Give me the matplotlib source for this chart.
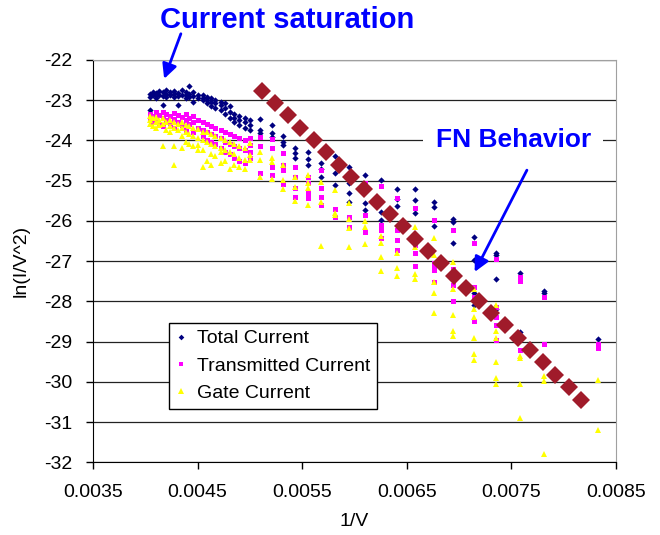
import matplotlib.pyplot as plt
from matplotlib.ticker import FixedLocator

plt.rcParams['font.family'] = ['Liberation Sans', 'DejaVu Sans']
plt.rcParams['axes.unicode_minus'] = False

# 1/V columns (same for all three measured series)
inv_v = [0.00404, 0.00407, 0.00410, 0.00413, 0.00417, 0.00420, 0.00424, 0.00427,
         0.00431, 0.00435, 0.00439, 0.00442, 0.00446, 0.00450, 0.00455, 0.00459,
         0.00463, 0.00467, 0.00472, 0.00476, 0.00481, 0.00485, 0.00490, 0.00495,
         0.00500, 0.00510, 0.00521, 0.00532, 0.00543, 0.00556, 0.00568, 0.00581,
         0.00595, 0.00610, 0.00625, 0.00641, 0.00658, 0.00676, 0.00694, 0.00714,
         0.00735, 0.00758, 0.00781, 0.00833]

total_vals = [
    [-22.85, -22.92, -23.25], [-22.80, -22.88], [-22.82, -22.90, -22.95], [-22.78, -22.86],
    [-22.80, -22.90, -23.12], [-22.75, -22.85, -22.93], [-22.80, -22.88], [-22.78, -22.84, -22.92],
    [-22.82, -22.90, -23.12], [-22.75, -22.86], [-22.80, -22.88, -22.95], [-22.65, -22.85, -22.92],
    [-22.80, -22.90, -23.05], [-22.86, -22.95], [-22.88, -22.95, -23.00], [-22.92, -23.00, -23.07],
    [-22.95, -23.05, -23.15], [-23.00, -23.07, -23.20], [-23.05, -23.12, -23.25], [-23.08, -23.20, -23.35],
    [-23.15, -23.30, -23.45], [-23.35, -23.45, -23.55], [-23.40, -23.50, -23.62], [-23.45, -23.55, -23.69],
    [-23.50, -23.62, -23.75],
    [-23.47, -23.74, -23.82], [-23.62, -23.82, -23.92], [-23.89, -24.04, -24.11], [-24.19, -24.31, -24.44],
    [-24.30, -24.47, -24.60], [-24.55, -24.70, -24.90], [-24.39, -24.80, -25.10], [-24.66, -25.06, -25.30, -25.53],
    [-24.86, -25.56, -25.73], [-24.98, -25.78, -25.98], [-25.20, -25.45, -25.63], [-25.20, -25.48, -25.80],
    [-25.53, -25.66, -26.13], [-25.95, -26.03, -26.55], [-26.40, -26.97, -27.80, -28.10],
    [-26.80, -26.85, -27.45, -28.20], [-27.30, -28.77], [-27.75, -27.80], [-28.93],
]

transmitted_vals = [
    [-23.35, -23.45], [-23.40, -23.55], [-23.30, -23.48], [-23.38, -23.60],
    [-23.30, -23.45, -23.65], [-23.35, -23.50], [-23.40, -23.58], [-23.32, -23.48, -23.70],
    [-23.38, -23.55], [-23.42, -23.62], [-23.35, -23.50, -23.75], [-23.45, -23.60],
    [-23.40, -23.55, -23.80], [-23.50, -23.68], [-23.55, -23.75, -23.90], [-23.60, -23.80, -24.00],
    [-23.65, -23.85, -24.05], [-23.70, -23.90, -24.10], [-23.75, -23.95, -24.20], [-23.80, -24.05, -24.30],
    [-23.85, -24.10, -24.35], [-23.90, -24.15, -24.45], [-23.95, -24.20, -24.50], [-24.00, -24.25, -24.55],
    [-23.94, -24.11, -24.29, -24.44],
    [-23.92, -24.15, -24.80], [-23.97, -24.20, -24.66, -24.86], [-24.31, -24.61, -24.74, -25.08],
    [-24.66, -24.91, -25.18, -25.40], [-24.90, -25.06, -25.30, -25.43], [-24.74, -25.18, -25.40, -25.60],
    [-24.60, -25.70, -25.90], [-24.95, -25.90, -26.15], [-25.06, -25.86, -26.28],
    [-25.13, -26.10, -26.23, -26.43], [-25.43, -26.23, -26.48, -26.73], [-25.68, -26.60, -26.80, -27.12],
    [-25.98, -27.05, -27.12, -27.22, -27.52], [-26.23, -27.20, -27.40, -27.60, -28.00],
    [-26.55, -27.65, -27.90, -28.50], [-26.95, -28.15, -28.40, -28.60, -28.95],
    [-27.40, -27.50, -29.20], [-27.90, -29.05], [-29.05, -29.15],
]

gate_vals = [
    [-23.40, -23.50, -23.60], [-23.45, -23.65], [-23.42, -23.55, -23.70], [-23.50, -23.62],
    [-23.45, -23.60, -24.15], [-23.55, -23.75], [-23.50, -23.65, -23.80], [-23.55, -23.70, -24.15, -24.62],
    [-23.60, -23.75], [-23.55, -23.70, -23.90, -24.20], [-23.62, -23.80, -24.05], [-23.65, -23.85, -24.10],
    [-23.70, -23.90, -24.15], [-23.72, -23.95, -24.12, -24.25], [-23.78, -23.98, -24.25, -24.65],
    [-23.80, -24.05, -24.50], [-23.85, -24.10, -24.35, -24.60], [-23.90, -24.15, -24.40],
    [-23.95, -24.20, -24.30, -24.55], [-24.00, -24.25, -24.50], [-24.05, -24.30, -24.72],
    [-24.10, -24.35, -24.60], [-24.15, -24.45, -24.65], [-24.20, -24.48, -24.70],
    [-24.06, -24.36, -24.49],
    [-24.29, -24.49, -24.90], [-24.44, -24.54, -24.95], [-24.61, -24.98, -25.20], [-24.91, -25.15, -25.50],
    [-24.86, -25.06, -25.18, -25.60], [-25.03, -25.53, -26.62], [-25.24, -25.80, -25.86],
    [-25.56, -25.96, -26.18, -26.65], [-26.00, -26.15, -26.58], [-26.38, -26.55, -26.90, -27.25],
    [-26.80, -27.17, -27.37], [-26.15, -26.65, -27.32, -27.45], [-26.43, -26.85, -27.52, -27.80, -28.30],
    [-27.02, -27.70, -28.35, -28.75, -28.85], [-27.70, -28.20, -28.40, -28.90, -29.30, -29.45],
    [-28.10, -28.75, -28.90, -29.50, -29.90, -30.05], [-29.35, -29.40, -30.05, -30.90],
    [-29.85, -29.97, -31.80], [-29.95, -31.20],
]

# FN fit line
fn_x = [0.00512, 0.00524, 0.00536, 0.00548, 0.00561, 0.00573, 0.00585, 0.00597, 0.00609,
        0.00622, 0.00634, 0.00646, 0.00658, 0.00670, 0.00683, 0.00695, 0.00707, 0.00719,
        0.00731, 0.00744, 0.00756, 0.00768, 0.00780, 0.00792, 0.00805, 0.00817]
fn_y = [-22.77, -23.07, -23.38, -23.69, -23.99, -24.30, -24.61, -24.92, -25.22,
        -25.53, -25.84, -26.14, -26.45, -26.76, -27.06, -27.37, -27.68, -27.98,
        -28.29, -28.60, -28.90, -29.21, -29.52, -29.83, -30.13, -30.46]

x_ticks = [0.0035, 0.0045, 0.0055, 0.0065, 0.0075, 0.0085]


def flatten(cols, vals):
    xs, ys = [], []
    for x, col in zip(cols, vals):
        for y in col:
            xs.append(x)
            ys.append(y)
    return xs, ys


tx, ty = flatten(inv_v, total_vals)
mx, my = flatten(inv_v, transmitted_vals)
gx, gy = flatten(inv_v, gate_vals)

fig = plt.figure(figsize=(6.6, 5.35), dpi=100)
ax = fig.add_axes([0.141, 0.136, 0.792, 0.752])

ax.plot(tx, ty, 'D', color='#000080', ms=3.2, mew=0, label='Total Current')
ax.plot(mx, my, 's', color='#FF00FF', ms=3.6, mew=0, label='Transmitted Current')
ax.plot(gx, gy, '^', color='#FFFF00', ms=4.6, mew=0, label='Gate Current')
ax.plot(fn_x, fn_y, 'D', color='#A01B2A', ms=9, mew=0, label='_nolegend_')

ax.set_xlim(0.0035, 0.0085)
ax.set_ylim(-32, -22)
ax.xaxis.set_major_locator(FixedLocator(x_ticks))
ax.set_xticklabels(['%.4f' % v for v in x_ticks])
ax.set_yticks(range(-32, -21))
ax.tick_params(direction='out', length=5, width=1, labelsize=14, colors='black')
ax.tick_params(axis='x', pad=11)
ax.tick_params(axis='y', pad=10)

ax.yaxis.grid(True, color='#222222', lw=0.9)
ax.set_axisbelow(True)
for s in ['top', 'right']:
    ax.spines[s].set_color('#A0A0A0')
for s in ['left', 'bottom']:
    ax.spines[s].set_color('black')

ax.set_xlabel('1/V', fontsize=14, labelpad=8)
ax.set_ylabel('ln(I/V^2)', fontsize=14, labelpad=10)

leg = ax.legend(loc='upper left', bbox_to_anchor=(0.145, 0.346), borderaxespad=0,
                fontsize=14, frameon=True, fancybox=False, edgecolor='black',
                framealpha=1, handlelength=0.6, handletextpad=0.5, labelspacing=0.5,
                borderpad=0.35, markerscale=0.9)
leg.get_frame().set_linewidth(1)

ax.text(0.00536, -21.0, 'Current saturation', ha='center', va='center',
        fontsize=21, fontweight='bold', color='#0000FF', clip_on=False)
ax.annotate('', xy=(0.00418, -22.47), xytext=(0.00434, -21.35),
            annotation_clip=False,
            arrowprops=dict(arrowstyle='-|>', color='#0000FF', lw=2,
                            mutation_scale=22, shrinkA=0, shrinkB=0))

ax.text(0.00752, -24.0, 'FN Behavior', ha='center', va='center',
        fontsize=19, fontweight='bold', color='#0000FF',
        bbox=dict(facecolor='white', edgecolor='none', pad=9))
ax.annotate('', xy=(0.00715, -27.27), xytext=(0.00765, -24.74),
            arrowprops=dict(arrowstyle='-|>', color='#0000FF', lw=2,
                            mutation_scale=22, shrinkA=0, shrinkB=0))

fig.savefig('out.png', dpi=100)
